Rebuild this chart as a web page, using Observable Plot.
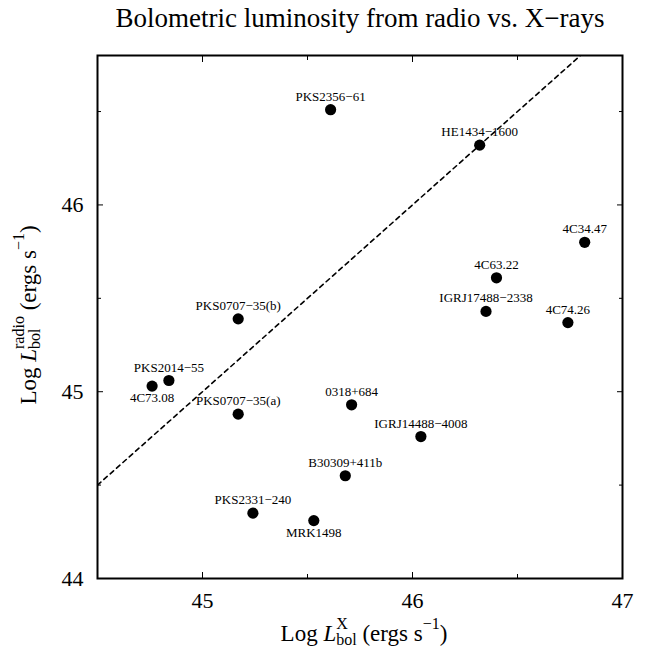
<!DOCTYPE html>
<html><head><meta charset="utf-8">
<script src="https://cdn.jsdelivr.net/npm/d3@7"></script>
<script src="https://cdn.jsdelivr.net/npm/@observablehq/plot@0.6"></script>
<style>body{margin:0;background:#fff}</style>
</head><body><div id="chart"></div>
<script>
const names = ["PKS2356−61","HE1434−1600","4C34.47","4C63.22","IGRJ17488−2338","4C74.26",
  "PKS0707−35(b)","PKS2014−55","4C73.08","PKS0707−35(a)","0318+684","IGRJ14488−4008",
  "B30309+411b","PKS2331−240","MRK1498"];
const logLx =     [45.61, 46.32, 46.82, 46.40, 46.35, 46.74, 45.17, 44.84, 44.76, 45.17, 45.71, 46.04, 45.68, 45.24, 45.53];
const logLradio = [46.51, 46.32, 45.80, 45.61, 45.43, 45.37, 45.39, 45.06, 45.03, 44.88, 44.93, 44.76, 44.55, 44.35, 44.31];
const labelsBelow = ["4C73.08","MRK1498"];
const xMajorTicks = [45, 46, 47];
const xMinorTicks = [45.5, 46.5];
const yMajorTicks = [44, 45, 46];
const yMinorTicks = [44.5, 45.5, 46.5];
const oneToOne = [44.5, 47];
const title = "Bolometric luminosity from radio vs. X−rays";

const FONT = "'Liberation Serif','Times New Roman',serif";
const data = names.map((name, i) => ({name, x: logLx[i], y: logLradio[i]}));
const above = data.filter(d => !labelsBelow.includes(d.name));
const below = data.filter(d => labelsBelow.includes(d.name));

const plot = Plot.plot({
  width: 652, height: 652,
  marginTop: 55, marginRight: 30, marginBottom: 74, marginLeft: 97,
  style: {fontFamily: FONT, background: "#fff", color: "#000"},
  x: {domain: [44.5, 47]},
  y: {domain: [44, 46.8]},
  marks: [
    Plot.axisX(xMajorTicks, {anchor: "bottom", tickSize: 0, tickPadding: 14, fontSize: 22, label: null, tickFormat: d => String(d)}),
    Plot.axisY(yMajorTicks, {anchor: "left", tickSize: 0, tickPadding: 14, fontSize: 22, label: null, tickFormat: d => String(d)}),
    Plot.axisX(xMajorTicks, {anchor: "bottom", tickSize: -6, text: null, label: null}),
    Plot.axisX(xMajorTicks, {anchor: "top", tickSize: -6, text: null, label: null}),
    Plot.axisX(xMinorTicks, {anchor: "bottom", tickSize: -4, text: null, label: null}),
    Plot.axisX(xMinorTicks, {anchor: "top", tickSize: -4, text: null, label: null}),
    Plot.axisY(yMajorTicks, {anchor: "left", tickSize: -6, text: null, label: null}),
    Plot.axisY(yMajorTicks, {anchor: "right", tickSize: -6, text: null, label: null}),
    Plot.axisY(yMinorTicks, {anchor: "left", tickSize: -4, text: null, label: null}),
    Plot.axisY(yMinorTicks, {anchor: "right", tickSize: -4, text: null, label: null}),
    Plot.line(oneToOne, {x: d => d, y: d => d, stroke: "#000", strokeWidth: 1.6, strokeDasharray: "4.5,4", clip: true}),
    Plot.dot(data, {x: "x", y: "y", r: 5.6, fill: "#000"}),
    Plot.text(above, {x: "x", y: "y", text: "name", lineAnchor: "bottom", dy: -9, fontSize: 13, fill: "#000"}),
    Plot.text(below, {x: "x", y: "y", text: "name", lineAnchor: "top", dy: 7, fontSize: 13, fill: "#000"}),
    Plot.frame({stroke: "#000", strokeWidth: 2})
  ]
});
document.getElementById("chart").append(plot);

const svg = d3.select(plot);
svg.append("text").attr("x", 360).attr("y", 27).attr("text-anchor", "middle")
  .attr("font-family", FONT).attr("font-size", 27).attr("fill", "#000").text(title);

function mathLabel(parts, x, y, rotate) {
  const fs = 23, small = 16;
  const g = svg.append("g").attr("transform", `translate(${x},${y}) rotate(${rotate})`)
    .attr("font-family", FONT).attr("fill", "#000").attr("text-anchor", "start");
  let cx = 0;
  const add = (txt, dy, size, italic) => {
    const t = g.append("text").attr("x", cx).attr("y", dy).attr("font-size", size)
      .attr("text-anchor", "start")
      .attr("font-style", italic ? "italic" : "normal").attr("xml:space", "preserve").text(txt);
    return t.node().getComputedTextLength();
  };
  for (const p of parts) {
    if (p.stack) {
      const w1 = add(p.sub, 3.5, small, false);
      const w2 = add(p.sup, -12.5, small, false);
      cx += Math.max(w1, w2);
    } else if (p.sup) {
      cx += add(p.sup, -12.5, small, false);
    } else {
      cx += add(p.t, 0, fs, p.i);
    }
  }
  g.selectAll("text").attr("x", function() { return +this.getAttribute("x") - cx / 2; });
}
mathLabel([{t: "Log "}, {t: "L", i: true}, {stack: true, sub: "bol", sup: "X"}, {t: "\u00a0(ergs s"}, {sup: "−1"}, {t: ")"}], 364, 641, 0);
mathLabel([{t: "Log "}, {t: "L", i: true}, {stack: true, sub: "bol", sup: "radio"}, {t: "\u00a0(ergs s"}, {sup: "−1"}, {t: ")"}], 36, 315, -90);
</script>
</body></html>
